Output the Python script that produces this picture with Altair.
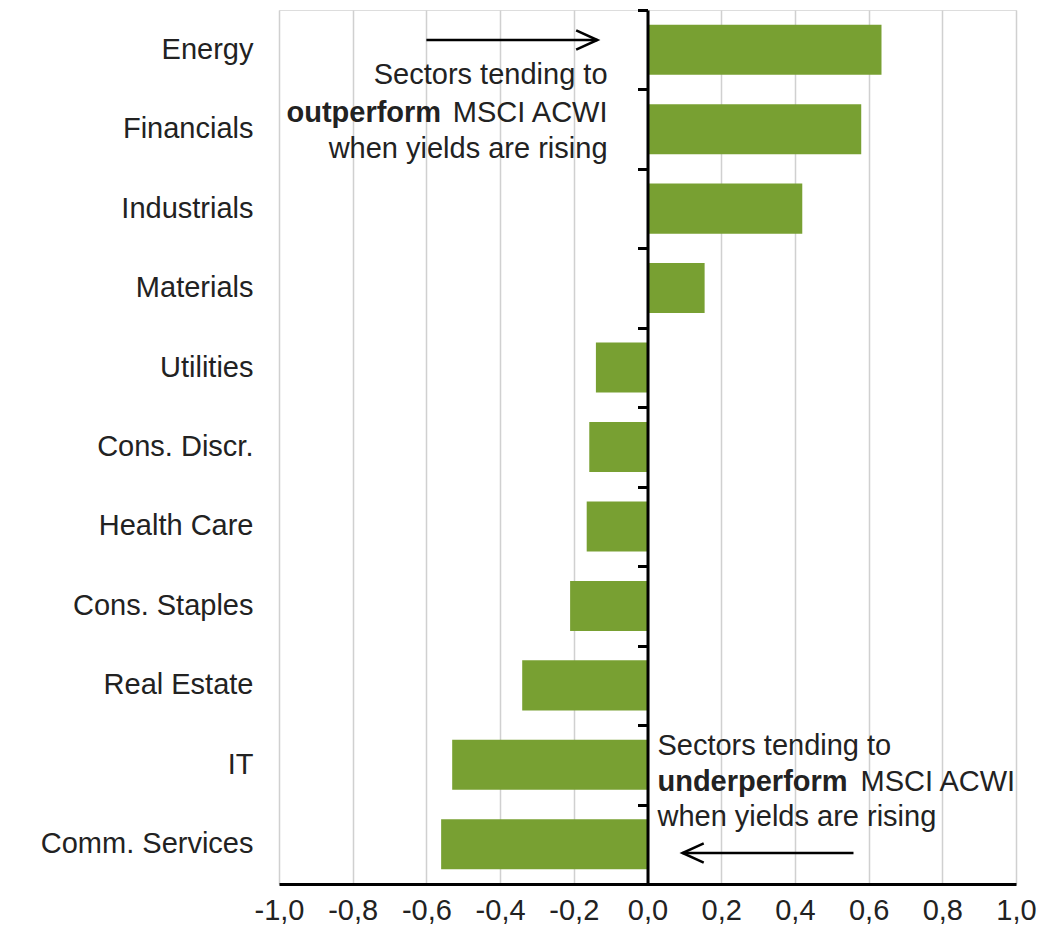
import altair as alt
import pandas as pd

# ---- data ----
sectors = ["Energy", "Financials", "Industrials", "Materials", "Utilities",
           "Cons. Discr.", "Health Care", "Cons. Staples", "Real Estate",
           "IT", "Comm. Services"]
values = [0.635, 0.58, 0.42, 0.155, -0.14, -0.158, -0.165, -0.21, -0.34, -0.53, -0.56]
x_ticks = [-1.0, -0.8, -0.6, -0.4, -0.2, 0.0, 0.2, 0.4, 0.6, 0.8, 1.0]

# annotation texts
top_lines = ["Sectors tending to", "MSCI ACWI", "when yields are rising"]
top_bold = "outperform"
bottom_lines = ["Sectors tending to", "MSCI ACWI", "when yields are rising"]
bottom_bold = "underperform"

FONT = "Liberation Sans"
FS = 29
TXT = "#222222"
BAR = "#78A032"
W, H = 737, 874
STEP = H / len(sectors)

df = pd.DataFrame({"sector": sectors, "value": values})

xscale = alt.Scale(domain=[-1, 1], nice=False, zero=False)
yscale = alt.Scale(domain=sectors, paddingInner=0.37, paddingOuter=0.185)

bars = alt.Chart(df).mark_bar(color=BAR).encode(
    x=alt.X("value:Q", scale=xscale, title=None,
            axis=alt.Axis(values=x_ticks,
                          labelExpr="replace(replace(format(datum.value, '.1f'), '.', ','), '\u2212', '-')",
                          labelOverlap=False, labelFlush=False,
                          grid=True, gridColor="#D0D0D0", gridWidth=1.5,
                          domainColor="black", domainWidth=3, ticks=False,
                          labelFont=FONT, labelFontSize=FS, labelColor=TXT,
                          labelPadding=12, title=None)),
    x2=alt.datum(0),
    y=alt.Y("sector:N", scale=yscale, sort=sectors, title=None,
            axis=alt.Axis(title=None, domain=False, ticks=False,
                          labelFont=FONT, labelFontSize=FS, labelColor=TXT,
                          labelPadding=26, labelLimit=400)),
)

zero_axis = alt.Chart(df).mark_rule(opacity=0).encode(
    y=alt.Y("sector:N", scale=yscale, sort=sectors, title=None,
            axis=alt.Axis(orient="left", offset=-W / 2, labels=False,
                          domainColor="black", domainWidth=3,
                          tickOffset=-STEP / 2, tickColor="black", tickWidth=3,
                          tickSize=10, title=None, zindex=2)),
)

# annotation tables (y in pixels from the top of the plot area)
ann_top = pd.DataFrame({"ax": [-0.1085] * 3, "txt": top_lines, "py": [65, 103, 139]})
ann_top_b = pd.DataFrame({"ax": [-0.56], "txt": [top_bold], "py": [103]})
ann_bot = pd.DataFrame({"ax": [0.027, 0.578, 0.027], "txt": bottom_lines, "py": [736, 772, 807]})
ann_bot_b = pd.DataFrame({"ax": [0.027], "txt": [bottom_bold], "py": [772]})


def text_layer(data, align, weight):
    return alt.Chart(data).mark_text(
        align=align, baseline="middle", font=FONT, fontSize=FS,
        fontWeight=weight, color=TXT
    ).encode(
        x=alt.X("ax:Q", scale=xscale, title=None),
        y=alt.Y("py:Q", scale=None),
        text="txt:N",
    )


t1 = text_layer(ann_top, "right", "normal")
t2 = text_layer(ann_top_b, "right", "bold")
t3 = text_layer(ann_bot, "left", "normal")
t4 = text_layer(ann_bot_b, "left", "bold")

# arrows
arr_lines = pd.DataFrame({"x1": [-0.6, 0.559], "x2": [-0.136, 0.095], "py": [30, 843]})
arrow_shafts = alt.Chart(arr_lines).mark_rule(color="black", strokeWidth=2.5).encode(
    x=alt.X("x1:Q", scale=xscale, title=None),
    x2="x2:Q",
    y=alt.Y("py:Q", scale=None),
)
head_r = alt.Chart(pd.DataFrame({"ax": [-0.136], "py": [30]})).mark_point(
    shape="M-1,-0.45L0,0L-1,0.45", filled=False, color="black",
    strokeWidth=2.5, size=1800, opacity=1
).encode(x=alt.X("ax:Q", scale=xscale, title=None), y=alt.Y("py:Q", scale=None))
head_l = alt.Chart(pd.DataFrame({"ax": [0.095], "py": [843]})).mark_point(
    shape="M1,-0.45L0,0L1,0.45", filled=False, color="black",
    strokeWidth=2.5, size=1800, opacity=1
).encode(x=alt.X("ax:Q", scale=xscale, title=None), y=alt.Y("py:Q", scale=None))

chart = alt.layer(
    bars, zero_axis, t1, t2, t3, t4, arrow_shafts, head_r, head_l
).resolve_axis(y="independent").properties(
    width=W, height=H,
    padding={"left": 279, "top": 10, "right": 43, "bottom": 52},
    autosize=alt.AutoSizeParams(type="none"),
).configure_view(stroke=None).configure(background="white")

chart.save("out.html", embed_options={"renderer": "svg", "actions": False})
